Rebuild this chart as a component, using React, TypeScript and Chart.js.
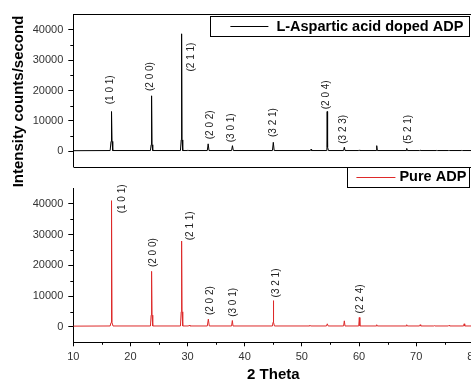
import React, { useEffect, useRef } from 'react';
import { Chart, registerables } from 'chart.js';

Chart.register(...registerables);

const FONT = '"Liberation Sans", Arial, Helvetica, sans-serif';

// ---- axis data ----
const thetaMin = 10;
const thetaMax = 80;
const intensityMin = -5000;
const intensityMax = 45000;
const xTicks = [10, 20, 30, 40, 50, 60, 70, 80];
const xMinorTicks = [15, 25, 35, 45, 55, 65, 75];
const yTicks = [0, 10000, 20000, 30000, 40000];
const yMinorTicks = [5000, 15000, 25000, 35000];

const xTitle = '2 Theta';
const yTitle = 'Intensity counts/second';
const dopedName = 'L-Aspartic acid doped ADP';
const pureName = 'Pure ADP';

// ---- series: [2θ, intensity] ----
const dopedPattern: number[][] = [
  [10, 250], [16.45, 300], [16.6, 3300], [16.66, 7650], [16.72, 13100], [16.78, 3300], [16.9, 300],
  [23.5, 300], [23.62, 2200], [23.68, 9500], [23.72, 18260], [23.78, 2200], [23.9, 300],
  [28.75, 300], [28.88, 3800], [28.94, 22200], [28.97, 38600], [29.03, 3800], [29.15, 300],
  [30.0, 300], [30.07, 500], [30.15, 300],
  [33.45, 300], [33.6, 2500], [33.75, 300],
  [37.7, 300], [37.85, 1900], [38.0, 300],
  [44.85, 300], [45.0, 3000], [45.15, 300],
  [51.5, 300], [51.6, 700], [51.7, 300],
  [54.25, 300], [54.38, 1400], [54.43, 13100], [54.5, 1400], [54.65, 300],
  [57.3, 300], [57.43, 1400], [57.55, 300],
  [59.95, 300], [60.05, 500], [60.15, 300],
  [63.0, 300], [63.1, 1900], [63.2, 300],
  [68.25, 300], [68.35, 1000], [68.45, 300],
  [70.6, 300], [70.7, 450], [70.8, 300],
  [73.5, 300], [73.6, 350], [73.7, 300],
  [75.65, 300], [75.75, 350], [75.85, 300],
  [77.9, 300], [78.0, 350], [78.1, 300],
  [80, 300],
];

const purePattern: number[][] = [
  [10, 250], [16.45, 300], [16.6, 1400], [16.66, 22730], [16.72, 40980], [16.78, 1400], [16.95, 300],
  [23.5, 300], [23.62, 3800], [23.68, 9280], [23.72, 18030], [23.78, 3800], [23.9, 300],
  [28.75, 300], [28.88, 4900], [28.94, 18690], [28.97, 27870], [29.03, 4900], [29.15, 300],
  [30.2, 300], [30.3, 600], [30.4, 300],
  [33.45, 300], [33.63, 2520], [33.8, 300],
  [37.7, 300], [37.83, 2070], [37.95, 300],
  [44.85, 300], [44.95, 1500], [45.0, 8520], [45.08, 1500], [45.2, 300],
  [51.3, 300], [51.4, 550], [51.5, 300],
  [54.3, 300], [54.45, 1000], [54.6, 300],
  [57.3, 300], [57.43, 1970], [57.55, 300],
  [59.95, 300], [60.05, 3050], [60.15, 300],
  [63.0, 300], [63.1, 700], [63.2, 300],
  [68.25, 300], [68.35, 700], [68.45, 300],
  [70.6, 300], [70.7, 700], [70.8, 300],
  [73.1, 300], [73.2, 400], [73.3, 300],
  [75.65, 300], [75.75, 500], [75.85, 300],
  [78.3, 300], [78.4, 1000], [78.5, 300],
  [80, 300],
];

// ---- peak (hkl) labels: text, 2θ and intensity of the label centre ----
const dopedLabelText = ['(1 0 1)', '(2 0 0)', '(2 1 1)', '(2 0 2)', '(3 0 1)', '(3 2 1)', '(2 0 4)', '(3 2 3)', '(5 2 1)'];
const dopedLabelTheta = [16.55, 23.42, 30.72, 33.92, 37.72, 45.0, 54.23, 57.25, 68.63];
const dopedLabelIntensity = [20230, 24590, 30980, 8750, 7770, 9475, 18590, 7280, 7280];

const pureLabelText = ['(1 0 1)', '(2 0 0)', '(2 1 1)', '(2 0 2)', '(3 0 1)', '(3 2 1)', '(2 2 4)'];
const pureLabelTheta = [18.65, 24.0, 30.42, 33.92, 38.0, 45.6, 60.3];
const pureLabelIntensity = [41570, 24100, 32830, 8525, 7970, 14260, 9080];

const dopedColor = '#000000';
const pureColor = '#dd2a2a';

const px = (v: number) => Math.round(v) + 0.5;

const decorPlugin = {
  id: 'xrdDecor',
  afterDatasetsDraw(chart: any) {
    const ctx = chart.ctx;
    const xs = chart.scales.x;
    const yt = chart.scales.yTop;
    const yb = chart.scales.yBottom;
    const { left, right } = chart.chartArea;
    ctx.save();

    // top panel frame
    ctx.strokeStyle = '#000';
    ctx.lineWidth = 1;
    ctx.beginPath();
    ctx.moveTo(px(left), px(yt.top));
    ctx.lineTo(px(right), px(yt.top));
    ctx.lineTo(px(right), px(yt.bottom));
    ctx.lineTo(px(left), px(yt.bottom));
    ctx.stroke();

    // minor ticks
    ctx.beginPath();
    for (const s of [yt, yb]) {
      for (const v of yMinorTicks) {
        const y = px(s.getPixelForValue(v));
        ctx.moveTo(left - 3, y);
        ctx.lineTo(left, y);
      }
    }
    for (const v of xMinorTicks) {
      const x = px(xs.getPixelForValue(v));
      ctx.moveTo(x, xs.top);
      ctx.lineTo(x, xs.top + 2.5);
    }
    ctx.stroke();

    // peak labels
    ctx.fillStyle = '#222';
    ctx.font = `10px ${FONT}`;
    ctx.textAlign = 'center';
    ctx.textBaseline = 'middle';
    const drawLabels = (scale: any, texts: string[], th: number[], it: number[]) => {
      texts.forEach((t, i) => {
        ctx.save();
        ctx.translate(xs.getPixelForValue(th[i]), scale.getPixelForValue(it[i]));
        ctx.rotate(-Math.PI / 2);
        ctx.fillText(t, 0, 0);
        ctx.restore();
      });
    };
    drawLabels(yt, dopedLabelText, dopedLabelTheta, dopedLabelIntensity);
    drawLabels(yb, pureLabelText, pureLabelTheta, pureLabelIntensity);

    // legends
    ctx.font = `bold 14.5px ${FONT}`;
    ctx.textAlign = 'left';
    const legend = (text: string, color: string, top: number, lineStart: number, lineEnd: number, textStart: number, pad: number) => {
      const tw = ctx.measureText(text).width;
      const w = textStart + tw + pad;
      const l = right - 4 - w;
      ctx.fillStyle = '#fff';
      ctx.fillRect(l, top, w, 20);
      ctx.strokeStyle = '#000';
      ctx.lineWidth = 1;
      ctx.strokeRect(px(l), px(top), Math.round(w), 20);
      ctx.strokeStyle = color;
      ctx.lineWidth = 1.2;
      ctx.beginPath();
      ctx.moveTo(l + lineStart, px(top + 10));
      ctx.lineTo(l + lineEnd, px(top + 10));
      ctx.stroke();
      ctx.fillStyle = '#000';
      ctx.textBaseline = 'middle';
      ctx.fillText(text, l + textStart, top + 10.5);
    };
    legend(dopedName, dopedColor, yt.top + 2, 20, 58, 66, 6);
    legend(pureName, pureColor, yt.bottom, 9, 48, 52, 3);

    // common y title
    ctx.save();
    ctx.translate(19, (yt.top + yt.bottom) / 2 + 11);
    ctx.rotate(-Math.PI / 2);
    ctx.font = `bold 15px ${FONT}`;
    ctx.fillStyle = '#000';
    ctx.textAlign = 'center';
    ctx.textBaseline = 'middle';
    ctx.fillText(yTitle, 0, 0);
    ctx.restore();

    ctx.restore();
  },
};

const yAxis = (weight: number) => ({
  type: 'linear' as const,
  position: 'left' as const,
  stack: 'panels',
  stackWeight: weight,
  min: intensityMin,
  max: intensityMax,
  afterBuildTicks: (s: any) => {
    s.ticks = yTicks.map((v) => ({ value: v }));
  },
  afterFit: (s: any) => {
    s.width = 73.3;
    s.paddingTop = 0;
    s.paddingBottom = 0;
  },
  border: { display: true, color: '#000', width: 1 },
  grid: { display: true, drawOnChartArea: false, drawTicks: true, tickLength: 5, tickColor: '#000' },
  ticks: {
    color: '#333',
    padding: 5,
    font: { family: FONT, size: 11 },
    callback: (v: any) => String(v),
  },
});

export default function App() {
  const ref = useRef<HTMLCanvasElement | null>(null);
  useEffect(() => {
    if (!ref.current) return;
    const chart = new Chart(ref.current, {
      type: 'scatter',
      data: {
        datasets: [
          {
            label: dopedName,
            data: dopedPattern.map(([x, y]) => ({ x, y })),
            yAxisID: 'yTop',
            showLine: true,
            borderColor: dopedColor,
            borderWidth: 1,
            pointRadius: 0,
            tension: 0,
          },
          {
            label: pureName,
            data: purePattern.map(([x, y]) => ({ x, y })),
            yAxisID: 'yBottom',
            showLine: true,
            borderColor: pureColor,
            borderWidth: 1,
            pointRadius: 0,
            tension: 0,
          },
        ],
      },
      options: {
        animation: false,
        responsive: false,
        devicePixelRatio: 1,
        layout: { padding: { top: 14.3, right: 16.7, bottom: 0, left: 0 } },
        plugins: { legend: { display: false }, tooltip: { enabled: false }, title: { display: false } },
        scales: {
          x: {
            type: 'linear',
            position: 'bottom',
            min: thetaMin,
            max: thetaMax,
            afterBuildTicks: (s: any) => {
              s.ticks = xTicks.map((v) => ({ value: v }));
            },
            afterFit: (s: any) => {
              s.height = 41.7;
              s.paddingLeft = 0;
              s.paddingRight = 0;
            },
            border: { display: true, color: '#000', width: 1 },
            grid: { display: true, drawOnChartArea: false, drawTicks: true, tickLength: 4, tickColor: '#000' },
            ticks: { color: '#333', padding: 4, font: { family: FONT, size: 11 }, maxRotation: 0 },
            title: {
              display: true,
              text: xTitle,
              color: '#000',
              font: { family: FONT, size: 15, weight: 'bold' },
              padding: { top: 0, bottom: 0 },
            },
          },
          yBottom: yAxis(154),
          ySpacer: {
            type: 'linear',
            position: 'left',
            stack: 'panels',
            stackWeight: 21.6,
            min: 0,
            max: 1,
            afterFit: (s: any) => {
              s.width = 73.3;
              s.paddingTop = 0;
              s.paddingBottom = 0;
            },
            border: { display: false },
            grid: { display: false },
            ticks: { display: false },
          },
          yTop: yAxis(152.4),
        },
      } as any,
      plugins: [decorPlugin],
    });
    return () => chart.destroy();
  }, []);

  return (
    <div style={{ position: 'fixed', left: 0, top: 0, width: 471, height: 384, overflow: 'hidden', background: '#fff' }}>
      <canvas ref={ref} width={490} height={384} style={{ display: 'block', width: 490, height: 384 }} />
    </div>
  );
}
